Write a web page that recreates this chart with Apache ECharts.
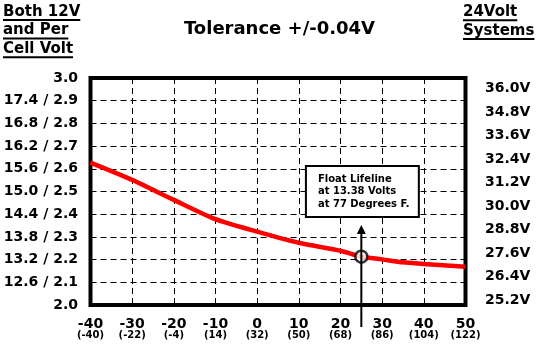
<!DOCTYPE html>
<html><head><meta charset="utf-8">
<script src="https://cdn.jsdelivr.net/npm/echarts@6/dist/echarts.min.js"></script>
<style>html,body{margin:0;padding:0;background:#fff}#c{width:544px;height:347px}</style>
</head><body><div id="c"></div>
<script>
// ---- data ----
const tempC = [-40, -30, -20, -10, 0, 10, 20, 25, 30, 35, 40, 50];
const cellVolts = [2.627, 2.551, 2.463, 2.378, 2.323, 2.274, 2.239, 2.213, 2.201, 2.188, 2.181, 2.169];
const xTickC = [-40, -30, -20, -10, 0, 10, 20, 30, 40, 50];
const xTickCLabels = ['-40', '-30', '-20', '-10', '0', '10', '20', '30', '40', '50'];
const xTickFLabels = ['(-40)', '(-22)', '(-4)', '(14)', '(32)', '(50)', '(68)', '(86)', '(104)', '(122)'];
const leftTickLabels = ['2.0', '12.6 / 2.1', '13.2 / 2.2', '13.8 / 2.3', '14.4 / 2.4', '15.0 / 2.5',
  '15.6 / 2.6', '16.2 / 2.7', '16.8 / 2.8', '17.4 / 2.9', '3.0'];
const rightTickValues = [25.2, 26.4, 27.6, 28.8, 30.0, 31.2, 32.4, 33.6, 34.8, 36.0];
const rightTickLabels = ['25.2V', '26.4V', '27.6V', '28.8V', '30.0V', '31.2V', '32.4V', '33.6V', '34.8V', '36.0V'];
const floatPoint = [25, 2.213];
const arrowSpan = [25, 1.903, 2.352];
const noteBox = [[11.7, 2.612], [38.8, 2.388]];
const noteLines = ['Float Lifeline', 'at 13.38 Volts', 'at 77 Degrees F.'];
const titleText = 'Tolerance +/-0.04V';
const leftHeader = ['Both 12V', 'and Per', 'Cell Volt'];
const rightHeader = ['24Volt', 'Systems'];

// ---- chart ----
const FF = '"DejaVu Sans", Arial, sans-serif';
const cv = document.createElement('canvas').getContext('2d');
function tw(t, font) { cv.font = font; return cv.measureText(t).width; }
const hFont = 'bold 15px ' + FF;

const graphics = [];
graphics.push({ type: 'text', x: 279.5, y: 29.5, style: { text: titleText, font: 'bold 18px ' + FF, fill: '#000', align: 'center', verticalAlign: 'middle' } });
const leftY = [11.7, 30.3, 49];
leftHeader.forEach((t, i) => {
  graphics.push({ type: 'text', x: 3, y: leftY[i], style: { text: t, font: hFont, fill: '#000', align: 'left', verticalAlign: 'middle' } });
  graphics.push({ type: 'line', shape: { x1: 3, y1: leftY[i] + 8.3, x2: 3 + tw(t, hFont), y2: leftY[i] + 8.3 }, style: { stroke: '#000', lineWidth: 2 } });
});
const rightY = [12, 30.8];
rightHeader.forEach((t, i) => {
  graphics.push({ type: 'text', x: 463, y: rightY[i], style: { text: t, font: hFont, fill: '#000', align: 'left', verticalAlign: 'middle' } });
  graphics.push({ type: 'line', shape: { x1: 463, y1: rightY[i] + 8.3, x2: 463 + tw(t, hFont), y2: rightY[i] + 8.3 }, style: { stroke: '#000', lineWidth: 2 } });
});

const dash = { color: '#000', width: 1, type: [6, 4] };
const chart = echarts.init(document.getElementById('c'), null, { renderer: 'canvas' });
chart.setOption({
  backgroundColor: '#fff',
  animation: false,
  graphic: graphics,
  grid: { left: 90.5, right: 78.5, top: 78, bottom: 42, show: true, borderColor: '#000', borderWidth: 4, backgroundColor: 'transparent', outerBoundsMode: 'none' },
  xAxis: {
    type: 'value', min: -40, max: 50, interval: 10,
    axisLine: { show: false }, axisTick: { show: false },
    splitLine: { show: true, lineStyle: dash },
    axisLabel: {
      margin: 13,
      formatter: v => { const i = xTickC.indexOf(Math.round(v)); return i < 0 ? '' : '{c|' + xTickCLabels[i] + '}\n{f|' + xTickFLabels[i] + '}'; },
      rich: {
        c: { fontFamily: FF, fontSize: 14, fontWeight: 'bold', color: '#000', lineHeight: 12, align: 'center' },
        f: { fontFamily: FF, fontSize: 10, fontWeight: 'bold', color: '#000', lineHeight: 10, align: 'center' }
      }
    }
  },
  yAxis: [{
    type: 'value', min: 2.0, max: 3.0, interval: 0.1,
    axisLine: { show: false }, axisTick: { show: false },
    splitLine: { show: true, lineStyle: dash },
    axisLabel: {
      margin: 12.5, fontFamily: FF, fontSize: 14, fontWeight: 'bold', color: '#000',
      formatter: v => leftTickLabels[Math.round((v - 2.0) * 10)] || ''
    }
  }, {
    type: 'value', position: 'right', min: 24.945, max: 36.536,
    axisLine: { show: false }, axisTick: { show: false }, splitLine: { show: false },
    axisLabel: {
      margin: 19.5, fontFamily: FF, fontSize: 14, fontWeight: 'bold', color: '#000',
      customValues: rightTickValues,
      formatter: v => { const i = rightTickValues.findIndex(t => Math.abs(t - v) < 1e-6); return i < 0 ? '' : rightTickLabels[i]; }
    }
  }],
  series: [{
    type: 'line', yAxisIndex: 0, z: 2,
    data: tempC.map((c, i) => [c, cellVolts[i]]),
    showSymbol: false, smooth: 0.25,
    lineStyle: { color: '#ff0000', width: 4.5 },
    markArea: {
      silent: true,
      itemStyle: { color: '#fff', borderColor: '#000', borderWidth: 2 },
      label: { show: true, position: 'insideLeft', distance: 13, formatter: noteLines.join('\n'),
        fontFamily: FF, fontSize: 10, fontWeight: 'bold', lineHeight: 12.5, color: '#000' },
      data: [[{ coord: noteBox[0] }, { coord: noteBox[1] }]]
    }
  }, {
    type: 'scatter', yAxisIndex: 0, z: 3, silent: true,
    data: [floatPoint], symbol: 'circle', symbolSize: 12,
    itemStyle: { color: '#fff', borderColor: '#000', borderWidth: 2.5 }
  }, {
    type: 'custom', yAxisIndex: 0, z: 4, silent: true, clip: false,
    data: [arrowSpan],
    encode: { x: 0, y: [1, 2] },
    renderItem: (params, api) => {
      const x = api.value(0);
      const p0 = api.coord([x, api.value(1)]);
      const p1 = api.coord([x, api.value(2)]);
      return { type: 'group', children: [
        { type: 'line', shape: { x1: p0[0], y1: p0[1], x2: p1[0], y2: p1[1] + 7 }, style: { stroke: '#000', lineWidth: 2 } },
        { type: 'polygon', shape: { points: [[p1[0], p1[1]], [p1[0] - 4.5, p1[1] + 9], [p1[0] + 4.5, p1[1] + 9]] }, style: { fill: '#000' } }
      ] };
    }
  }]
});
</script>
</body></html>
